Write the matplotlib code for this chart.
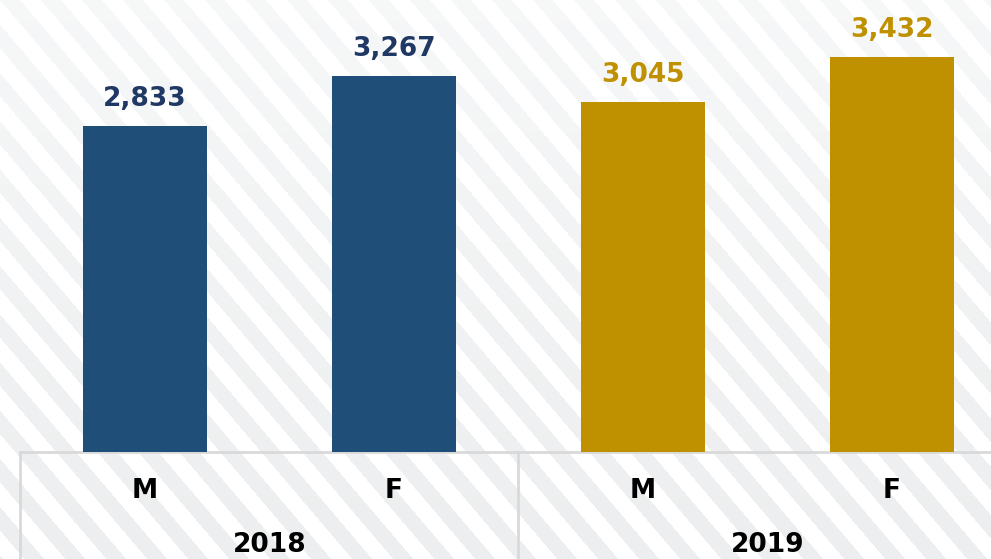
import numpy as np
import matplotlib.pyplot as plt
from matplotlib.colors import to_rgb

# data
years = ['2018', '2018', '2019', '2019']
sexes = ['M', 'F', 'M', 'F']
values = [2833, 3267, 3045, 3432]
year_labels = ['2018', '2019']

bar_colors = ['#1f4e79', '#1f4e79', '#bf9000', '#bf9000']
text_colors = ['#1f3864', '#1f3864', '#bf9000', '#bf9000']

W, H = 991, 559
fig = plt.figure(figsize=(W / 100, H / 100), dpi=100)

# striped background, fading in towards the bottom
yy, xx = np.mgrid[0:H, 0:W]
u = (xx - 0.85 * yy) % 41
stripe = (u < 20).astype(float)
strength = 0.45 + 0.55 * (yy / H)
grey = np.array(to_rgb('#eceeef'))
bg = np.ones((H, W, 3)) - (1 - grey)[None, None, :] * (stripe * strength)[:, :, None]
bg_ax = fig.add_axes([0, 0, 1, 1])
bg_ax.imshow(bg, aspect='auto', interpolation='bilinear')
bg_ax.axis('off')

ax = fig.add_axes([0, 0, 1, 1])
ax.patch.set_alpha(0)
x = np.arange(len(values))
ax.bar(x, values, width=0.5, color=bar_colors, zorder=3)
ax.set_xlim(-0.582, 3.398)
ax.set_ylim(-930, 3927)
ax.axis('off')

for xi, v, c in zip(x, values, text_colors):
    ax.annotate(f'{v:,}', (xi, v), xytext=(0, 10), textcoords='offset points',
                ha='center', va='bottom', fontsize=19, fontweight='bold', color=c)

# table underneath
line_c = '#d9d9d9'
ax.plot([-0.5, 3.6], [0, 0], color=line_c, lw=2, zorder=2, clip_on=False)
for xv in [-0.5, 1.5]:
    ax.plot([xv, xv], [0, -1000], color=line_c, lw=2, zorder=2, clip_on=False)

tr = ax.get_xaxis_transform()
for xi, s in zip(x, sexes):
    ax.text(xi, 0.122, s, transform=tr, ha='center', va='center',
            fontsize=19, fontweight='bold', color='black')
for i, yl in enumerate(year_labels):
    ax.text(2 * i + 0.5, 0.025, yl, transform=tr, ha='center', va='center',
            fontsize=19, fontweight='bold', color='black')

plt.savefig('out.png', dpi=100)
